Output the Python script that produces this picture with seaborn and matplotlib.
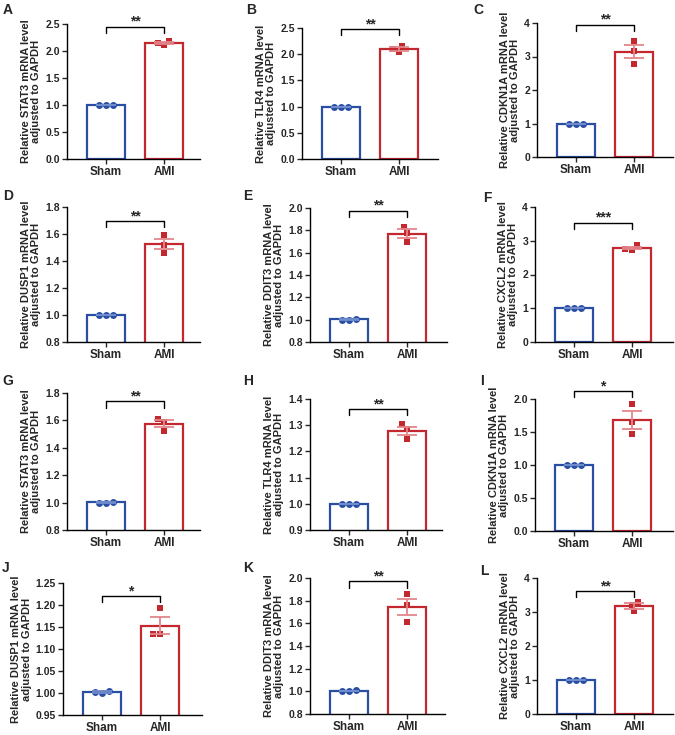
import numpy as np
import pandas as pd
import matplotlib
matplotlib.use("Agg")
import matplotlib.pyplot as plt
import seaborn as sns
from matplotlib.ticker import FormatStrFormatter

# ---------------- data ----------------
letters = ["A", "B", "C", "D", "E", "F", "G", "H", "I", "J", "K", "L"]
genes = ["STAT3", "TLR4", "CDKN1A", "DUSP1", "DDIT3", "CXCL2",
         "STAT3", "TLR4", "CDKN1A", "DUSP1", "DDIT3", "CXCL2"]
groups = ["Sham", "AMI"]
sham_values = [
    [1.00, 1.00, 1.00], [1.00, 1.00, 1.00], [1.00, 1.00, 1.00],
    [1.00, 1.00, 1.00], [1.00, 1.01, 1.00], [1.00, 1.00, 1.00],
    [1.00, 1.005, 1.00], [1.00, 1.00, 1.00], [1.00, 1.00, 1.00],
    [1.000, 1.005, 1.002], [1.00, 1.01, 1.00], [1.00, 1.00, 1.00],
]
ami_values = [
    [2.11, 2.19, 2.15], [2.04, 2.15, 2.10], [3.47, 3.16, 2.79],
    [1.59, 1.52, 1.46], [1.83, 1.78, 1.70], [2.74, 2.87, 2.75],
    [1.61, 1.59, 1.525], [1.303, 1.285, 1.247], [1.93, 1.65, 1.47],
    [1.194, 1.133, 1.133], [1.857, 1.766, 1.614], [3.30, 3.20, 3.02],
]
stars = ["**", "**", "**", "**", "**", "***", "**", "**", "*", "*", "**", "**"]
y_ticks = [
    (0.0, 2.5, 0.5), (0.0, 2.5, 0.5), (0, 4, 1),
    (0.8, 1.8, 0.2), (0.8, 2.0, 0.2), (0, 4, 1),
    (0.8, 1.8, 0.2), (0.9, 1.4, 0.1), (0.0, 2.0, 0.5),
    (0.95, 1.25, 0.05), (0.8, 2.0, 0.2), (0, 4, 1),
]
tick_fmt = ["%.1f", "%.1f", "%d", "%.1f", "%.1f", "%d",
            "%.1f", "%.1f", "%.1f", "%.2f", "%.1f", "%d"]
bracket_y = [2.45, 2.48, 3.95, 1.694, 1.976, 3.54,
             1.739, 1.361, 2.12, 1.220, 1.97, 3.61]

# ---------------- layout (pixels: left, top, right, bottom) ----------------
rects = [
    (67, 24, 200, 159), (302, 28, 438, 159), (537, 23, 673, 157),
    (67, 207, 200, 342), (310, 208, 447, 342), (535, 207, 673, 342),
    (67, 393, 200, 530), (310, 399, 442, 530), (535, 399, 673, 531),
    (63, 583, 202, 715), (310, 578, 445, 714), (537, 578, 673, 714),
]
letter_pos = [
    (3, 3), (246, 3), (473, 3),
    (3, 189), (243, 189), (483, 191),
    (2, 374), (243, 374), (480, 374),
    (2, 561), (243, 561), (480, 564),
]

BLUE = "#2a4ea3"
RED = "#c3282f"
BLUE_ERR = "#6f8ccc"
RED_ERR = "#e3878c"

sns.set_style("ticks")
plt.rcParams["font.family"] = ["Liberation Sans", "DejaVu Sans"]
plt.rcParams["font.weight"] = "bold"
plt.rcParams["axes.labelweight"] = "bold"

W, H = 675, 735
fig = plt.figure(figsize=(W / 100, H / 100), dpi=100)

for i in range(12):
    l, t, r, b = rects[i]
    ax = fig.add_axes([l / W, 1 - b / H, (r - l) / W, (b - t) / H])
    df = pd.DataFrame({
        "group": ["Sham"] * len(sham_values[i]) + ["AMI"] * len(ami_values[i]),
        "value": sham_values[i] + ami_values[i],
    })
    sns.barplot(data=df, x="group", y="value", order=groups, hue="group",
                hue_order=groups, palette={"Sham": BLUE, "AMI": RED},
                fill=False, linewidth=1.6, width=0.65, errorbar=None,
                legend=False, ax=ax)
    sns.swarmplot(data=df[df["group"] == "Sham"], x="group", y="value",
                  order=groups, color=BLUE, marker="o", size=5, ax=ax,
                  zorder=4)
    sns.swarmplot(data=df[df["group"] == "AMI"], x="group", y="value",
                  order=groups, color=RED, marker="s", size=4.6, ax=ax,
                  zorder=4)
    for j, (vals, col) in enumerate([(sham_values[i], BLUE_ERR),
                                     (ami_values[i], RED_ERR)]):
        v = np.asarray(vals)
        m = v.mean()
        se = v.std(ddof=1) / np.sqrt(len(v))
        ax.errorbar(j, m, yerr=se, color=col, capsize=7, elinewidth=1.3,
                    capthick=1.3, zorder=5)

    y0, y1, st = y_ticks[i]
    ticks = np.arange(y0, y1 + st / 2, st)
    ax.set_ylim(y0, y1)
    ax.set_yticks(ticks)
    ax.yaxis.set_major_formatter(FormatStrFormatter(tick_fmt[i]))
    w = r - l
    ax.set_xlim(-39 / 58, (w - 39) / 58)

    yb = bracket_y[i]
    drop = 0.045 * (y1 - y0)
    ax.plot([0, 0, 1, 1], [yb - drop, yb, yb, yb - drop], color="black",
            lw=1.0, clip_on=False, zorder=6)
    ax.annotate(stars[i], xy=(0.5, yb), xytext=(0, -1.5),
                textcoords="offset points", ha="center", va="bottom",
                fontsize=10, fontweight="bold", annotation_clip=False)

    ax.set_xlabel("")
    ax.set_ylabel(f"Relative {genes[i]} mRNA level\nadjusted to GAPDH",
                  fontsize=8, fontweight="bold", labelpad=3,
                  linespacing=1.05)
    ax.tick_params(axis="y", labelsize=7.5, width=1, length=3.5, pad=1.5)
    ax.tick_params(axis="x", labelsize=8.5, width=1, length=3.5, pad=1.5)
    for lab in ax.get_xticklabels() + ax.get_yticklabels():
        lab.set_fontweight("bold")
    for s in ["top", "right"]:
        ax.spines[s].set_visible(False)
    for s in ["left", "bottom"]:
        ax.spines[s].set_linewidth(1.0)
        ax.spines[s].set_color("black")

    lx, ly = letter_pos[i]
    fig.text(lx / W, 1 - ly / H, letters[i], ha="left", va="top",
             fontsize=10, fontweight="bold")

fig.savefig("out.png", dpi=100)
